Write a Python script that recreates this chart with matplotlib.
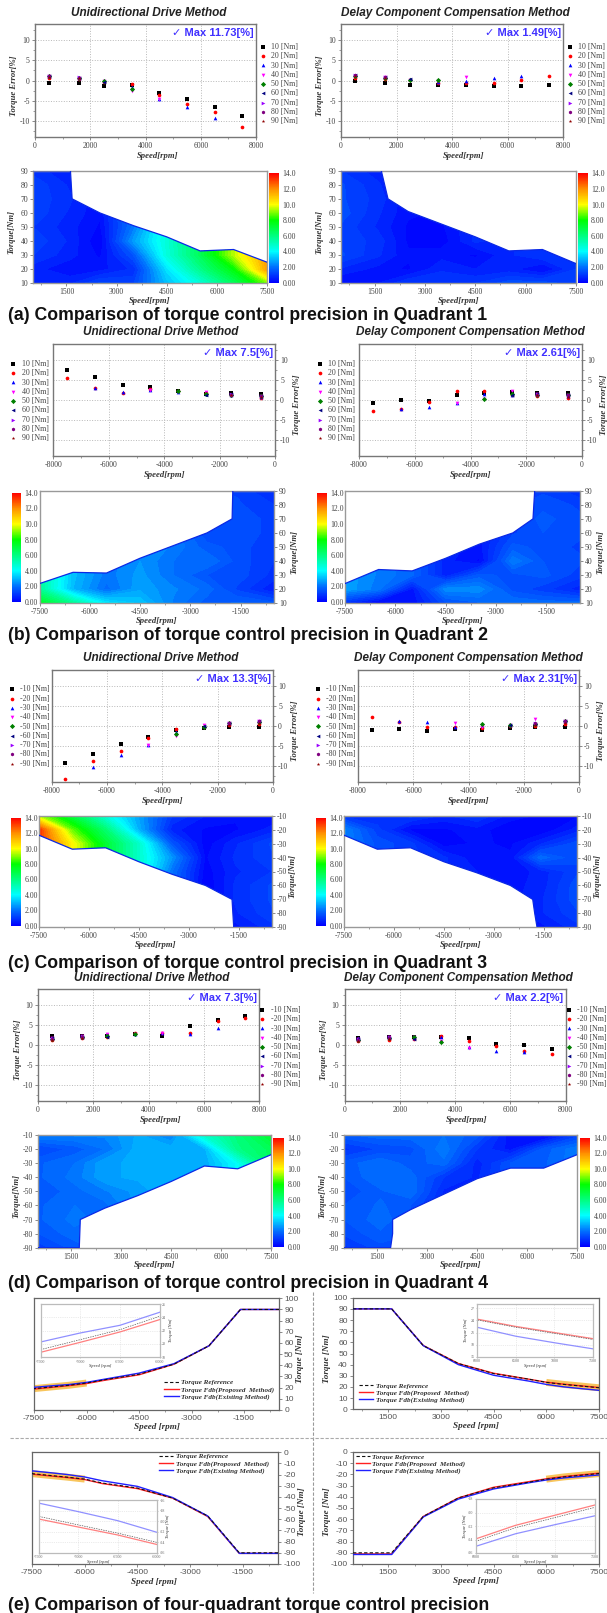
import matplotlib
matplotlib.use("Agg")
import matplotlib.pyplot as plt
import numpy as np
from matplotlib.cm import ScalarMappable
from matplotlib.colors import LinearSegmentedColormap, Normalize
from matplotlib.lines import Line2D
from matplotlib.patches import Polygon
from matplotlib.ticker import FixedLocator, MultipleLocator

W, H = 607, 1613

plt.rcParams["font.family"] = ["Liberation Serif", "DejaVu Sans"]
plt.rcParams["axes.unicode_minus"] = False

# data
SPEEDS = [500, 1600, 2500, 3500, 4500, 5500, 6500, 7500]
TORQUES = [10, 20, 30, 40, 50, 60, 70, 80, 90]

# rows = torque 10..90, each row only as long as the torque is reachable
Q1_UNI = [
    [-0.5, -0.7, -1.3, -1.2, -3.1, -4.5, -6.5, -8.8],
    [0.6, 0.3, -0.4, -0.8, -3.6, -5.8, -7.8, -11.7],
    [1.0, 0.6, -0.2, -1.5, -4.5, -6.6, -9.4],
    [1.2, 0.7, 0.0, -2.6, -4.6],
    [1.0, 0.6, -0.2, -2.1],
    [1.2, 0.7, -0.3],
    [1.2, 0.8],
    [1.2, 0.7],
    [0.9, 0.5],
]
Q1_DELAY = [
    [-0.2, -0.5, -1.0, -1.0, -1.0, -1.4, -1.4, -1.1],
    [0.7, 0.4, 0.2, -0.7, -0.5, -0.6, 0.2, 1.0],
    [1.3, 0.8, 0.3, -0.4, -0.2, 0.7, 1.0],
    [1.2, 0.9, 0.2, -0.1, 0.8],
    [1.2, 0.7, 0.2, 0.2],
    [1.4, 0.8, 0.3],
    [1.3, 0.9],
    [1.3, 0.8],
    [1.0, 0.6],
]
Q2_UNI = [
    [1.6, 1.8, 1.6, 2.2, 3.2, 3.7, 5.7, 7.5],
    [0.5, 1.2, 1.9, 2.3, 2.7, 1.9, 3.0, 5.6],
    [0.9, 1.4, 1.5, 2.0, 2.6, 2.1, 3.1],
    [1.0, 1.4, 2.0, 2.0, 2.5],
    [1.0, 1.4, 1.6, 2.2],
    [1.1, 1.5, 1.3],
    [1.1, 1.5],
    [1.0, 1.3],
    [0.7, 1.2],
]
Q2_DELAY = [
    [1.9, 1.9, 2.0, 1.7, 1.4, -0.3, 0.0, -0.8],
    [0.6, 1.1, 1.4, 2.4, 2.4, -0.4, -2.1, -2.7],
    [1.1, 1.6, 1.4, 1.6, -0.6, -1.8, -2.2],
    [1.3, 1.5, 2.2, 0.2, -0.6],
    [1.2, 1.4, 1.6, 0.4],
    [1.3, 1.5, 1.2],
    [1.3, 1.6],
    [1.2, 1.4],
    [0.8, 1.2],
]
Q3_UNI = [
    [-0.3, -0.3, -0.5, -1.0, -2.7, -4.5, -6.9, -9.2],
    [0.6, 0.2, -0.2, -0.6, -2.9, -6.2, -8.7, -13.3],
    [1.3, 0.7, 0.1, -1.5, -4.8, -7.2, -10.1],
    [1.2, 0.8, 0.2, -2.5, -4.8],
    [1.0, 0.7, -0.1, -2.0],
    [1.3, 0.8, 0.0],
    [1.3, 0.8],
    [1.2, 0.7],
    [0.9, 0.4],
]
Q3_DELAY = [
    [-0.2, -0.2, -0.4, -1.0, -0.7, -1.1, -0.8, -0.9],
    [0.6, 0.0, 0.0, -0.4, -0.2, -0.2, 1.1, 2.3],
    [1.4, 0.7, 0.2, 0.3, -0.1, 1.1, 1.4],
    [1.3, 1.9, 0.3, -0.3, 0.8],
    [1.2, 0.6, 0.3, 0.5],
    [1.4, 0.6, 0.4],
    [1.4, 0.7],
    [1.2, 0.7],
    [0.9, 0.4],
]
Q4_UNI = [
    [2.3, 2.3, 2.3, 2.8, 2.2, 4.8, 6.1, 7.3],
    [1.2, 1.6, 2.0, 2.9, 2.9, 2.9, 5.9, 6.6],
    [1.7, 2.0, 2.7, 2.8, 2.9, 2.8, 4.1],
    [1.7, 2.1, 2.7, 2.8, 3.0],
    [1.5, 1.9, 2.2, 2.6],
    [1.7, 2.0, 1.9],
    [1.7, 2.1],
    [1.5, 1.9],
    [1.1, 1.6],
]
Q4_DELAY = [
    [1.7, 1.9, 1.9, 2.0, 1.6, 0.3, 0.0, -1.1],
    [0.9, 1.3, 1.4, 2.2, 1.0, -0.4, -1.6, -2.2],
    [1.6, 2.0, 1.6, 1.9, -0.6, -1.5, -1.7],
    [1.5, 2.0, 1.9, 1.0, -0.7],
    [1.3, 1.7, 2.0, 0.7],
    [1.5, 1.8, 1.5],
    [1.5, 1.9],
    [1.3, 1.7],
    [0.9, 1.4],
]

# upper edge of the operating region in the contour maps
ENV_Q1_UNI_S = [500, 1620, 1670, 2500, 3500, 4500, 5500, 6500, 7500]
ENV_Q1_UNI_T = [90, 90, 70, 60, 51, 43, 33, 34, 25]
ENV_Q1_DELAY_S = [500, 1700, 1900, 2500, 3500, 4500, 5500, 6500, 7500]
ENV_Q1_DELAY_T = [90, 90, 70, 61, 52, 43, 33, 34, 24]
ENV_Q2_UNI_S = [500, 1730, 1750, 2500, 3500, 4500, 5500, 6500, 7500]
ENV_Q2_UNI_T = [90, 90, 70, 60, 51, 42, 31.5, 32, 24]
ENV_Q2_DELAY_S = [500, 1850, 1900, 2500, 3500, 4500, 5500, 6500, 7500]
ENV_Q2_DELAY_T = [90, 90, 70, 60, 52, 42, 33, 34, 24]
ENV_Q3_UNI_S = [500, 1650, 1700, 2500, 3500, 4500, 5500, 6500, 7500]
ENV_Q3_UNI_T = [90, 90, 70, 60, 52, 43, 33, 34, 24]
ENV_Q3_DELAY_S = [500, 1700, 1770, 1830, 2500, 3500, 4500, 5500, 6500, 7500]
ENV_Q3_DELAY_T = [90, 90, 80, 70, 60, 51, 43, 33, 34, 24]
ENV_Q4_UNI_S = [500, 1740, 1770, 2500, 3500, 4500, 5500, 6500, 7500]
ENV_Q4_UNI_T = [90, 90, 70, 62, 53, 43, 32, 34, 24]
ENV_Q4_DELAY_S = [500, 1900, 1960, 1960, 2500, 3500, 4500, 5500, 6500, 7500]
ENV_Q4_DELAY_T = [90, 90, 80, 70, 63, 52, 41, 33.5, 33.5, 24]

# four-quadrant torque curves
CURVE_SPEED = [500, 1600, 2500, 3500, 4500, 5500, 6000, 6500, 7000, 7500]
TL_REF = [90, 90, 57.5, 41, 32, 27, 24.15, 22.15, 20.65, 19.15]
TL_PROP = [90, 90, 57.5, 41, 31.5, 26.5, 23.65, 21.8, 20.25, 18.75]
TL_EXIST = [90, 90, 57.5, 41.5, 33, 27.5, 24.75, 22.8, 21.65, 20.3]
TR_REF = [90, 90, 57, 41, 32, 27, 24.1, 22.3, 20.8, 19.3]
TR_PROP = [90, 90, 57.2, 41, 32.3, 27, 24.3, 22.5, 21, 19.5]
TR_EXIST = [90, 90, 57, 40, 30.5, 25.3, 22.3, 20.1, 18.5, 17]
BL_REF = [-90, -90, -57, -41, -32, -27.5, -24, -22.25, -20.7, -19.1]
BL_PROP = [-90.5, -90.5, -57.5, -41, -32.5, -28, -24.4, -22.6, -21.1, -19.6]
BL_EXIST = [-90.5, -90.5, -57, -40.5, -30.5, -25.5, -22.1, -19.9, -18.2, -16.6]
BR_REF = [-90, -90, -57.5, -41, -32, -27, -24.25, -22.25, -20.75, -19.25]
BR_PROP = [-91, -91, -57.5, -41, -31.5, -26.5, -23.9, -21.9, -20.4, -18.9]
BR_EXIST = [-91.5, -91.5, -58, -42, -33, -27.5, -25, -23.15, -21.8, -20.5]

TITLE_UNI = "Unidirectional Drive Method"
TITLE_DELAY = "Delay Component Compensation Method"
CAPTIONS = [
    "(a) Comparison of torque control precision in Quadrant 1",
    "(b) Comparison of torque control precision in Quadrant 2",
    "(c) Comparison of torque control precision in Quadrant 3",
    "(d) Comparison of torque control precision in Quadrant 4",
    "(e) Comparison of four-quadrant torque control precision",
]
CURVE_LABELS = ["Torque Reference", "Torque Fdb(Proposed  Method)", "Torque Fdb(Existing Method)"]

MARKERS = ["s", "o", "^", "v", "D", "<", ">", "h", "*"]
COLORS = ["#000000", "#ff0000", "#0000ff", "#ff00ff", "#008000", "#000080", "#9a00ff", "#800080", "#900000"]
SANS = ["Liberation Sans", "DejaVu Sans"]
SPINE = "#777777"
TEXT = "#444444"

cmap = LinearSegmentedColormap.from_list("err", [
    (0 / 14, "#0000ff"), (2 / 14, "#0070ff"), (4 / 14, "#00ffff"), (6 / 14, "#00ff80"),
    (8 / 14, "#00ff00"), (10 / 14, "#ffff00"), (12 / 14, "#ff9000"), (14 / 14, "#ff0000"),
])

fig = plt.figure(figsize=(W / 100, H / 100), dpi=100)


def add_ax(l, t, r, b):
    return fig.add_axes([l / W, 1 - b / H, (r - l) / W, (b - t) / H])


def put(x, y, s, **kw):
    kw.setdefault("ha", "center")
    kw.setdefault("va", "center")
    fig.text(x / W, 1 - y / H, s, **kw)


def style_spines(ax, color=SPINE, lw=1.0):
    for sp in ax.spines.values():
        sp.set_color(color)
        sp.set_linewidth(lw)


def scatter_panel(box, series, sx, st, title, title_xy, note, legend_xy):
    l, t, r, b = box
    ax = add_ax(*box)
    for i, row in enumerate(series):
        xs = [sx * s for s in SPEEDS[:len(row)]]
        ax.scatter(xs, row, s=7, marker=MARKERS[i], color=COLORS[i], linewidths=0, zorder=3,
                   label=f"{st * TORQUES[i]} [Nm]")
    ax.set_xlim(*((0, 8000) if sx > 0 else (-8000, 0)))
    ax.set_ylim(-14, 14)
    ax.xaxis.set_major_locator(MultipleLocator(2000))
    ax.xaxis.set_minor_locator(MultipleLocator(1000))
    ax.yaxis.set_major_locator(FixedLocator([-10, -5, 0, 5, 10]))
    ax.yaxis.set_minor_locator(FixedLocator([-12.5, -7.5, -2.5, 2.5, 7.5, 12.5]))
    ax.grid(True, which="major", color="#b8b8b8", ls=":", lw=0.7)
    ax.set_axisbelow(True)
    style_spines(ax)
    ax.tick_params(which="major", length=2.2, width=0.6, color=SPINE, labelsize=5.6,
                   labelcolor=TEXT, pad=1.5)
    ax.tick_params(which="minor", length=1.3, width=0.5, color=SPINE)
    if sx < 0:
        ax.yaxis.tick_right()
    ax.legend(loc="upper left", bbox_to_anchor=(legend_xy[0] / W, 1 - legend_xy[1] / H),
              bbox_transform=fig.transFigure, frameon=False, borderpad=0, borderaxespad=0,
              handlelength=1, handletextpad=0.57, labelspacing=0.16, fontsize=5.7,
              labelcolor=TEXT)
    put(title_xy[0], title_xy[1], title, family=SANS, weight="bold", style="italic",
        fontsize=8.5, color="#222222")
    put(r - 2, t + 9, "\u2713 " + note, family=SANS, weight="bold", fontsize=8,
        color="#4030ff", ha="right")
    lab = dict(family="Liberation Serif", weight="bold", style="italic", fontsize=6.2, color="#333333")
    put((l + r) / 2 + (12 if sx > 0 else 0), b + 19, "Speed[rpm]", **lab)
    put(l - 20.5 if sx > 0 else r + 22, (t + b) / 2 + 5, "Torque Error[%]", rotation=90, **lab)


def heat_panel(box, cbox, series, env_s, env_t, sx, st):
    l, t, r, b = box
    ax = add_ax(*box)
    z = np.zeros((len(TORQUES), len(SPEEDS)))
    for i, row in enumerate(series):
        for j in range(len(SPEEDS)):
            # cells above the reachable torque keep the last value of the column
            z[i, j] = abs(row[j]) if j < len(row) else z[i - 1, j]
    xs = sx * np.array(SPEEDS, dtype=float)
    ys = st * np.array(TORQUES, dtype=float)
    ox, oy = np.argsort(xs), np.argsort(ys)
    cs = ax.contourf(xs[ox], ys[oy], z[oy][:, ox], levels=np.arange(0, 14.01, 0.25), cmap=cmap,
                     norm=Normalize(0, 14))
    ex = sx * np.array(env_s, dtype=float)
    ey = st * np.array(env_t, dtype=float)
    corner_x = [sx * env_s[-1], sx * env_s[0]]
    corner_y = [st * 10, st * 10]
    poly = Polygon(np.column_stack([np.r_[ex, corner_x], np.r_[ey, corner_y]]), closed=True,
                   facecolor="none", edgecolor="none", transform=ax.transData)
    ax.add_patch(poly)
    cs.set_clip_path(poly)
    ax.plot(ex, ey, color="#0a28e6", lw=0.9, zorder=3)
    ax.set_xlim(*((500, 7500) if sx > 0 else (-7500, -500)))
    ax.set_ylim(*((10, 90) if st > 0 else (-90, -10)))
    ax.set_xticks(sx * np.array([1500, 3000, 4500, 6000, 7500]))
    ax.xaxis.set_minor_locator(MultipleLocator(750))
    ax.set_yticks(st * np.array(TORQUES))
    style_spines(ax, "#999999", 1.0)
    ax.tick_params(which="major", length=2, width=0.6, color=SPINE, labelsize=5.6,
                   labelcolor=TEXT, pad=1.5)
    ax.tick_params(which="minor", length=1.2, width=0.5, color=SPINE)
    if sx < 0:
        ax.yaxis.tick_right()
    cax = add_ax(*cbox)
    # every colorbar needs its own norm or the tick labels get reset
    cb = fig.colorbar(ScalarMappable(norm=Normalize(0, 14), cmap=cmap), cax=cax)
    cb.set_ticks([0, 2, 4, 6, 8, 10, 12, 14])
    cb.set_ticklabels(["0.00", "2.00", "4.00", "6.00", "8.00", "10.0", "12.0", "14.0"])
    cb.outline.set_visible(False)
    cax.tick_params(length=0, labelsize=5.6, labelcolor=TEXT, pad=2.5)
    lab = dict(family="Liberation Serif", weight="bold", style="italic", fontsize=6.2, color="#333333")
    put((l + r) / 2, b + 17.7, "Speed[rpm]", **lab)
    put(l - 22 if sx > 0 else r + 20, (t + b) / 2 + 5, "Torque[Nm]", rotation=90, **lab)


def curve_panel(box, inset_box, ref, prop, exist, sx, sy, label_x, xlab_xy, ylab_xy, legend_xy,
                inset_ylim, inset_ticks):
    ax = add_ax(*box)
    xs = sx * np.array(CURVE_SPEED, dtype=float)
    band = np.array(CURVE_SPEED) >= 6000
    ax.plot(xs[band], np.array(ref)[band], color="#f7b733", lw=5, alpha=0.8, solid_capstyle="butt", zorder=1)
    ax.plot(xs, prop, color="#ff2020", lw=1.0, zorder=2, label=CURVE_LABELS[1])
    ax.plot(xs, exist, color="#2020ff", lw=1.0, zorder=3, label=CURVE_LABELS[2])
    ax.plot(xs, ref, color="#111111", lw=0.8, ls=(0, (3, 2)), zorder=4, label=CURVE_LABELS[0])
    ax.set_xlim(*((500, 7500) if sx > 0 else (-7500, -500)))
    ax.set_ylim(*((0, 100) if sy > 0 else (-100, 0)))
    ax.set_xticks(sx * np.array([1500, 3000, 4500, 6000, 7500]))
    ax.xaxis.set_minor_locator(MultipleLocator(750))
    ax.yaxis.set_major_locator(MultipleLocator(10))
    style_spines(ax, "#666666", 0.9)
    ax.tick_params(which="major", length=2.2, width=0.6, color=SPINE, labelsize=6.1,
                   labelcolor="#555555", pad=1.5, labelfontfamily="Liberation Sans")
    ax.tick_params(which="minor", length=1.3, width=0.5, color=SPINE)
    if sx < 0:
        ax.yaxis.tick_right()
    handles, labels = ax.get_legend_handles_labels()
    ax.legend([handles[2], handles[0], handles[1]], [labels[2], labels[0], labels[1]],
              loc="upper left", bbox_to_anchor=(legend_xy[0] / W, 1 - legend_xy[1] / H),
              bbox_transform=fig.transFigure, frameon=False, borderpad=0, borderaxespad=0,
              handlelength=2, handletextpad=0.4, labelspacing=0.12,
              prop=dict(family="Liberation Serif", weight="bold", style="italic", size=5.1),
              labelcolor="#333333")
    lab = dict(family="Liberation Serif", weight="bold", style="italic", fontsize=6.6, color="#333333")
    put(xlab_xy[0], xlab_xy[1], "Speed [rpm]", **lab)
    put(ylab_xy[0], ylab_xy[1], "Torque [Nm]", rotation=90, **lab)

    ins = add_ax(*inset_box)
    ins.set_facecolor("white")
    ins.plot(xs, prop, color="#ff8080", lw=0.9)
    ins.plot(xs, exist, color="#9090ff", lw=0.9)
    ins.plot(xs, ref, color="#555555", lw=0.5, ls=(0, (2, 1.5)))
    ins.set_xlim(*((6000, 7500) if sx > 0 else (-7500, -6000)))
    ins.set_ylim(*inset_ylim)
    ins.set_xticks(sx * np.array([6000, 6500, 7000, 7500]))
    ins.set_yticks(inset_ticks)
    ins.grid(True, color="#d8d8d8", ls=":", lw=0.5)
    style_spines(ins, "#bbbbbb", 0.9)
    ins.tick_params(length=1, width=0.4, color="#999999", labelsize=2.9, labelcolor="#666666", pad=0.8)
    if label_x == "right":
        ins.yaxis.tick_right()
    il, it, ir, ib = inset_box
    small = dict(family="Liberation Serif", weight="bold", style="italic", fontsize=3.2, color="#666666")
    put((il + ir) / 2, ib + 9, "Speed [rpm]", **small)
    put(ir + 11 if label_x == "right" else il - 11, (it + ib) / 2, "Torque [Nm]", rotation=90, **small)


# scatter panels, all positions in reference pixels
scatter_panel((35, 24.3, 256, 136.7), Q1_UNI, 1, 1, TITLE_UNI, (148.6, 12.7), "Max 11.73[%]", (259, 43))
scatter_panel((341, 24.3, 563, 136.7), Q1_DELAY, 1, 1, TITLE_DELAY, (455, 12.7), "Max 1.49[%]", (566, 43))
scatter_panel((53.4, 344.3, 275, 456), Q2_UNI, -1, 1, TITLE_UNI, (161, 332.3), "Max 7.5[%]", (9.5, 360))
scatter_panel((359, 344.3, 582, 456), Q2_DELAY, -1, 1, TITLE_DELAY, (470.7, 332.3), "Max 2.61[%]", (316, 360))
scatter_panel((51.5, 670, 273, 782.3), Q3_UNI, -1, -1, TITLE_UNI, (160.6, 658), "Max 13.3[%]", (7.6, 685.5))
scatter_panel((358, 670, 579, 782.3), Q3_DELAY, -1, -1, TITLE_DELAY, (468.8, 658), "Max 2.31[%]", (314, 685.5))
scatter_panel((38, 988.7, 259, 1101), Q4_UNI, 1, -1, TITLE_UNI, (151.7, 977.7), "Max 7.3[%]", (258.4, 1006))
scatter_panel((344.5, 988.7, 565.5, 1101), Q4_DELAY, 1, -1, TITLE_DELAY, (458, 977.7), "Max 2.2[%]", (565, 1006))

# contour maps
heat_panel((33, 170.7, 267, 283.3), (269, 173.3, 279, 282.7), Q1_UNI, ENV_Q1_UNI_S, ENV_Q1_UNI_T, 1, 1)
heat_panel((341, 170.7, 576, 283.3), (577.5, 173.3, 587.5, 282.7), Q1_DELAY, ENV_Q1_DELAY_S, ENV_Q1_DELAY_T, 1, 1)
heat_panel((39.5, 490.7, 274, 603.3), (11.6, 492.7, 21.3, 602), Q2_UNI, ENV_Q2_UNI_S, ENV_Q2_UNI_T, -1, 1)
heat_panel((345, 490.7, 580, 603.3), (317, 492.7, 327, 602), Q2_DELAY, ENV_Q2_DELAY_S, ENV_Q2_DELAY_T, -1, 1)
heat_panel((39, 815.7, 272, 927.3), (11, 817.7, 21, 925.7), Q3_UNI, ENV_Q3_UNI_S, ENV_Q3_UNI_T, -1, -1)
heat_panel((344, 815.7, 577, 927.3), (316, 817.7, 326, 925.7), Q3_DELAY, ENV_Q3_DELAY_S, ENV_Q3_DELAY_T, -1, -1)
heat_panel((38, 1135, 271, 1247.7), (273, 1137.7, 284, 1246.7), Q4_UNI, ENV_Q4_UNI_S, ENV_Q4_UNI_T, 1, -1)
heat_panel((344, 1135, 577, 1247.7), (580, 1137.7, 590, 1246.7), Q4_DELAY, ENV_Q4_DELAY_S, ENV_Q4_DELAY_T, 1, -1)

# torque curves
curve_panel((34, 1298.3, 279, 1410), (40.6, 1304, 159.5, 1357.3), TL_REF, TL_PROP, TL_EXIST, -1, 1, "right",
            (157, 1427), (300, 1359), (164.5, 1379.5), (18, 26), [18, 20, 22, 24, 26])
curve_panel((353, 1297.7, 599, 1409.3), (477, 1304, 593, 1357), TR_REF, TR_PROP, TR_EXIST, 1, 1, "left",
            (476, 1426), (327, 1359), (358.8, 1383), (15, 28), [15, 18, 21, 24, 27])
curve_panel((32, 1452.3, 278, 1564), (39, 1500, 157, 1553), BL_REF, BL_PROP, BL_EXIST, -1, -1, "right",
            (154, 1581.7), (302, 1512), (158.6, 1453.5), (-26, -16), [-26, -24, -22, -20, -18, -16])
curve_panel((353, 1452, 599, 1564), (476, 1499, 594.6, 1553), BR_REF, BR_PROP, BR_EXIST, 1, -1, "left",
            (476, 1581), (327, 1512), (355.5, 1454), (-26, -18), [-26, -24, -22, -20, -18])

fig.add_artist(Line2D([312.7 / W, 312.7 / W], [1 - 1292 / H, 1 - 1593 / H], color="#999999", lw=0.8, ls=(0, (3, 1.5))))
fig.add_artist(Line2D([10 / W, 1], [1 - 1438.3 / H, 1 - 1438.3 / H], color="#aaaaaa", lw=0.8, ls=(0, (3, 1.5))))

for cap, y in zip(CAPTIONS, [316, 636, 963.3, 1283, 1605]):
    put(8, y, cap, ha="left", family="Liberation Sans", weight="bold", fontsize=12.7, color="#111111")

fig.savefig("out.png", dpi=100)
